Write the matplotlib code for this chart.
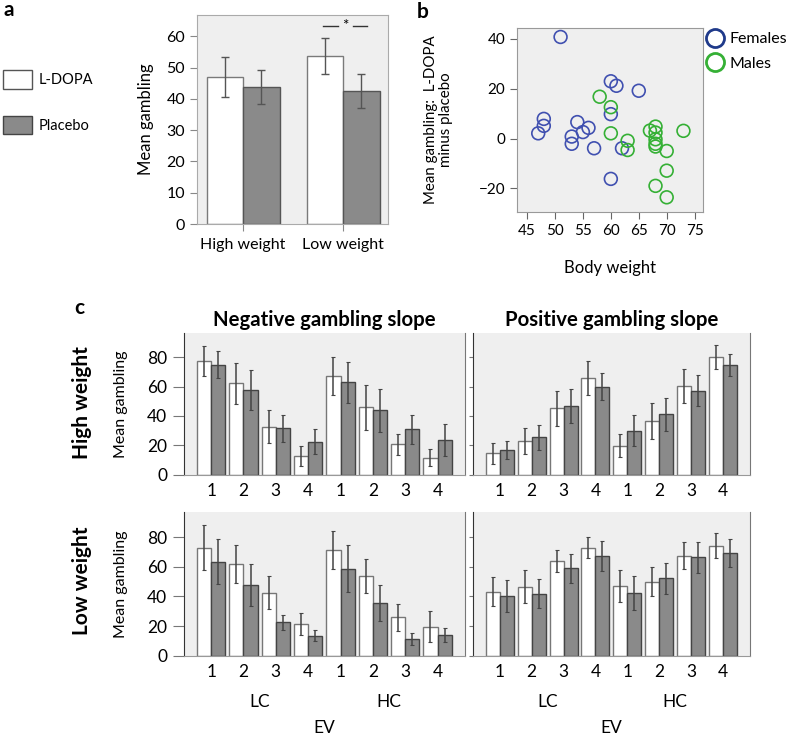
import numpy as np
import matplotlib
matplotlib.use('Agg')
import matplotlib.pyplot as plt
from matplotlib.patches import Patch
from matplotlib.lines import Line2D
from matplotlib.transforms import blended_transform_factory

plt.rcParams['font.family'] = ['Lato', 'DejaVu Sans']

# ---- panel a: mean gambling by weight group
groups_a = ['High weight', 'Low weight']
ldopa_a = [47.0, 53.7]
ldopa_a_err = [6.5, 5.7]
placebo_a = [43.8, 42.5]
placebo_a_err = [5.3, 5.3]

# ---- panel b: L-DOPA minus placebo vs body weight
fem_w = [51, 60, 61, 65, 60, 48, 48, 47, 54, 56, 55, 53, 53, 57, 62, 60]
fem_d = [40.8, 23, 21.2, 19.2, 9.8, 7.9, 5.1, 2.1, 6.6, 4.3, 2.6, 0.8, -2.1, -3.9, -3.9, -16.2]
male_w = [58, 60, 60, 63, 63, 67, 68, 68, 68, 68, 68, 70, 70, 68, 70, 73]
male_d = [16.8, 12.6, 2.1, -0.9, -4.6, 3.2, 4.8, 2.4, -0.3, -2.1, -3.2, -5.0, -12.9, -19.0, -23.6, 3.1]

# ---- panel c: EV 1-4 for LC then HC
ev_labels = ['1', '2', '3', '4', '1', '2', '3', '4']
neg_high_ldopa = [77.7, 62.2, 32.7, 12.6, 67.2, 45.9, 20.6, 11.5]
neg_high_ldopa_err = [10.2, 13.8, 11.0, 6.5, 13.0, 15.4, 7.0, 6.0]
neg_high_plac = [75.0, 57.5, 31.5, 22.2, 62.9, 43.8, 30.8, 23.5]
neg_high_plac_err = [9.3, 13.6, 9.0, 8.5, 13.8, 14.5, 10.0, 11.0]
pos_high_ldopa = [14.5, 23.1, 45.2, 65.7, 19.7, 36.5, 60.4, 80.0]
pos_high_ldopa_err = [7.0, 8.8, 12.0, 11.4, 7.6, 12.3, 11.4, 8.0]
pos_high_plac = [16.7, 25.4, 46.8, 60.0, 29.7, 41.1, 57.2, 74.8]
pos_high_plac_err = [6.0, 8.5, 11.7, 9.5, 10.6, 11.4, 10.6, 7.7]
neg_low_ldopa = [73.0, 61.9, 42.6, 21.4, 71.4, 53.9, 25.9, 19.6]
neg_low_ldopa_err = [15.0, 13.0, 11.0, 7.3, 12.6, 11.3, 9.0, 10.3]
neg_low_plac = [63.5, 47.8, 22.5, 13.5, 58.6, 35.4, 11.3, 14.0]
neg_low_plac_err = [15.0, 14.0, 5.3, 3.7, 15.8, 12.0, 4.3, 5.0]
pos_low_ldopa = [43.2, 46.6, 64.0, 73.0, 47.1, 50.0, 67.6, 74.3]
pos_low_ldopa_err = [9.9, 11.0, 7.2, 7.1, 11.0, 9.9, 9.4, 8.4]
pos_low_plac = [40.3, 41.7, 59.0, 67.3, 42.1, 52.3, 66.4, 69.6]
pos_low_plac_err = [10.5, 9.8, 9.9, 9.8, 11.5, 10.5, 10.4, 9.5]

BG = '#efefef'
GREY_BAR = '#8a8a8a'
BLUE = '#4050b0'
GREEN = '#35b035'

W, H = 791, 736
fig = plt.figure(figsize=(W / 100, H / 100), dpi=100)


def box(l, t, r, b):
    # axes from pixel edges
    return fig.add_axes([l / W, 1 - b / H, (r - l) / W, (b - t) / H])


# ================= panel a
ax = box(197, 15, 388, 224)
ax.set_facecolor(BG)
xa = np.arange(len(groups_a))
w = 0.365
ekw = dict(ecolor='#555555', elinewidth=1, capsize=3, capthick=1)
ax.bar(xa - w / 2, ldopa_a, w, yerr=ldopa_a_err, color='white',
       edgecolor='#7a7a7a', lw=1, error_kw=ekw)
ax.bar(xa + w / 2, placebo_a, w, yerr=placebo_a_err, color=GREY_BAR,
       edgecolor='#555555', lw=1, error_kw=ekw)
ax.set_xlim(-0.46, 1.45)
ax.set_ylim(0, 66.8)
ax.set_yticks(range(0, 61, 10))
ax.set_xticks(xa)
ax.set_xticklabels(groups_a)
ax.tick_params(axis='both', labelsize=11.5, color='#888888', length=5)
ax.tick_params(axis='x', pad=5)
for s in ax.spines.values():
    s.set_color('#aaaaaa')
ax.set_ylabel('Mean gambling', fontsize=12)
ax.yaxis.set_label_coords(-0.225, 0.5)
# significance marker
ax.plot([0.8, 0.95], [63.2, 63.2], color='#333333', lw=1)
ax.plot([1.1, 1.24], [63.2, 63.2], color='#333333', lw=1)
ax.text(1.025, 63.2, '*', ha='center', va='center', fontsize=11)

fig.legend(handles=[Patch(facecolor='white', edgecolor='#555555', label='L-DOPA'),
                    Patch(facecolor=GREY_BAR, edgecolor='#444444', label='Placebo')],
           loc='upper left', bbox_to_anchor=(3 / W, 1 - 70 / H), frameon=False,
           borderpad=0, borderaxespad=0, fontsize=10.5, handlelength=2.0,
           handleheight=1.6, handletextpad=0.45, labelspacing=1.85)
fig.text(3 / W, 1 - 10 / H, 'a', fontsize=15, fontweight='bold', va='center')

# ================= panel b
ax = box(517, 28, 703, 212)
ax.set_facecolor(BG)
ax.scatter(fem_w, fem_d, s=85, facecolors='none', edgecolors=BLUE, linewidths=1.2)
ax.scatter(male_w, male_d, s=85, facecolors='none', edgecolors=GREEN, linewidths=1.2)
ax.set_xlim(43.2, 76.5)
ax.set_ylim(-29.5, 44.4)
ax.set_xticks(range(45, 76, 5))
ax.set_yticks([-20, 0, 20, 40])
ax.tick_params(axis='both', labelsize=11, color='#666666', length=5)
for s in ax.spines.values():
    s.set_color('#999999')
ax.set_xlabel('Body weight', fontsize=12)
ax.xaxis.set_label_coords(0.5, -0.26)
ax.set_ylabel('Mean gambling:  L-DOPA\nminus placebo', fontsize=10.8, linespacing=1.05)
ax.yaxis.set_label_coords(-0.345, 0.5)
fig.legend(handles=[Line2D([], [], marker='o', ls='none', mfc='none', mec='#1f3a8a',
                           ms=13, mew=2, label='Females'),
                    Line2D([], [], marker='o', ls='none', mfc='none', mec=GREEN,
                           ms=13, mew=2, label='Males')],
           loc='upper left', bbox_to_anchor=(706 / W, 1 - 32 / H), frameon=False,
           borderpad=0, borderaxespad=0, fontsize=11.5, handlelength=1.1,
           handletextpad=0.4, labelspacing=0.65)
fig.text(417 / W, 1 - 12 / H, 'b', fontsize=15, fontweight='bold', va='center')

# ================= panel c
xc = np.arange(8)
wc = 0.44
ekw_c = dict(ecolor='#444444', elinewidth=1.1, capsize=1.5, capthick=0.8)


def panel_c(l, t, r, b, ld, lde, pl, ple, ytop, left):
    ax = box(l, t, r, b)
    ax.set_facecolor(BG)
    ax.bar(xc - wc / 2, ld, wc, yerr=lde, color='white', edgecolor='#777777',
           lw=1, error_kw=ekw_c)
    ax.bar(xc + wc / 2, pl, wc, yerr=ple, color=GREY_BAR, edgecolor='#444444',
           lw=1, error_kw=ekw_c)
    ax.set_xlim(-0.84, 7.85)
    ax.set_ylim(0, ytop)
    ax.set_yticks(range(0, 81, 20))
    ax.set_xticks(xc)
    ax.set_xticklabels(ev_labels)
    ax.tick_params(axis='x', length=0, labelsize=12.5, pad=6)
    ax.spines['top'].set_visible(False)
    ax.spines['left'].set_color('#333333')
    ax.spines['right'].set_color('#777777')
    ax.spines['bottom'].set_color('#999999')
    if left:
        ax.tick_params(axis='y', length=8, color='#777777', labelsize=12.5, pad=4)
        ax.set_ylabel('Mean gambling', fontsize=11.5)
        ax.yaxis.set_label_coords(-0.2, 0.5)
    else:
        ax.tick_params(axis='y', length=3, color='#777777', labelleft=False)
    return ax


tl = panel_c(184, 333, 465, 474.5, neg_high_ldopa, neg_high_ldopa_err,
             neg_high_plac, neg_high_plac_err, 96.5, True)
tr = panel_c(473, 333, 750, 474.5, pos_high_ldopa, pos_high_ldopa_err,
             pos_high_plac, pos_high_plac_err, 96.5, False)
bl = panel_c(184, 512, 465, 655.7, neg_low_ldopa, neg_low_ldopa_err,
             neg_low_plac, neg_low_plac_err, 97, True)
br = panel_c(473, 512, 750, 655.7, pos_low_ldopa, pos_low_ldopa_err,
             pos_low_plac, pos_low_plac_err, 97, False)

for ax, title in [(tl, 'Negative gambling slope'), (tr, 'Positive gambling slope')]:
    ax.text(0.5, 1 + 13 / 141.5, title, transform=ax.transAxes, ha='center',
            va='center', fontsize=14.7, fontweight='bold')

for ax in [bl, br]:
    trans = blended_transform_factory(ax.transData, ax.transAxes)
    ax.text(1.5, -46 / 143.7, 'LC', transform=trans, ha='center', va='center', fontsize=12.5)
    ax.text(5.5, -46 / 143.7, 'HC', transform=trans, ha='center', va='center', fontsize=12.5)
    ax.text(0.5, -72 / 143.7, 'EV', transform=ax.transAxes, ha='center', va='center',
            fontsize=12.5)

fig.text(82 / W, 1 - 403 / H, 'High weight', rotation=90, ha='center', va='center',
         fontsize=15, fontweight='bold')
fig.text(82 / W, 1 - 581 / H, 'Low weight', rotation=90, ha='center', va='center',
         fontsize=15, fontweight='bold')
fig.text(74 / W, 1 - 308 / H, 'c', fontsize=15, fontweight='bold', va='center')

fig.savefig('out.png', dpi=100)
